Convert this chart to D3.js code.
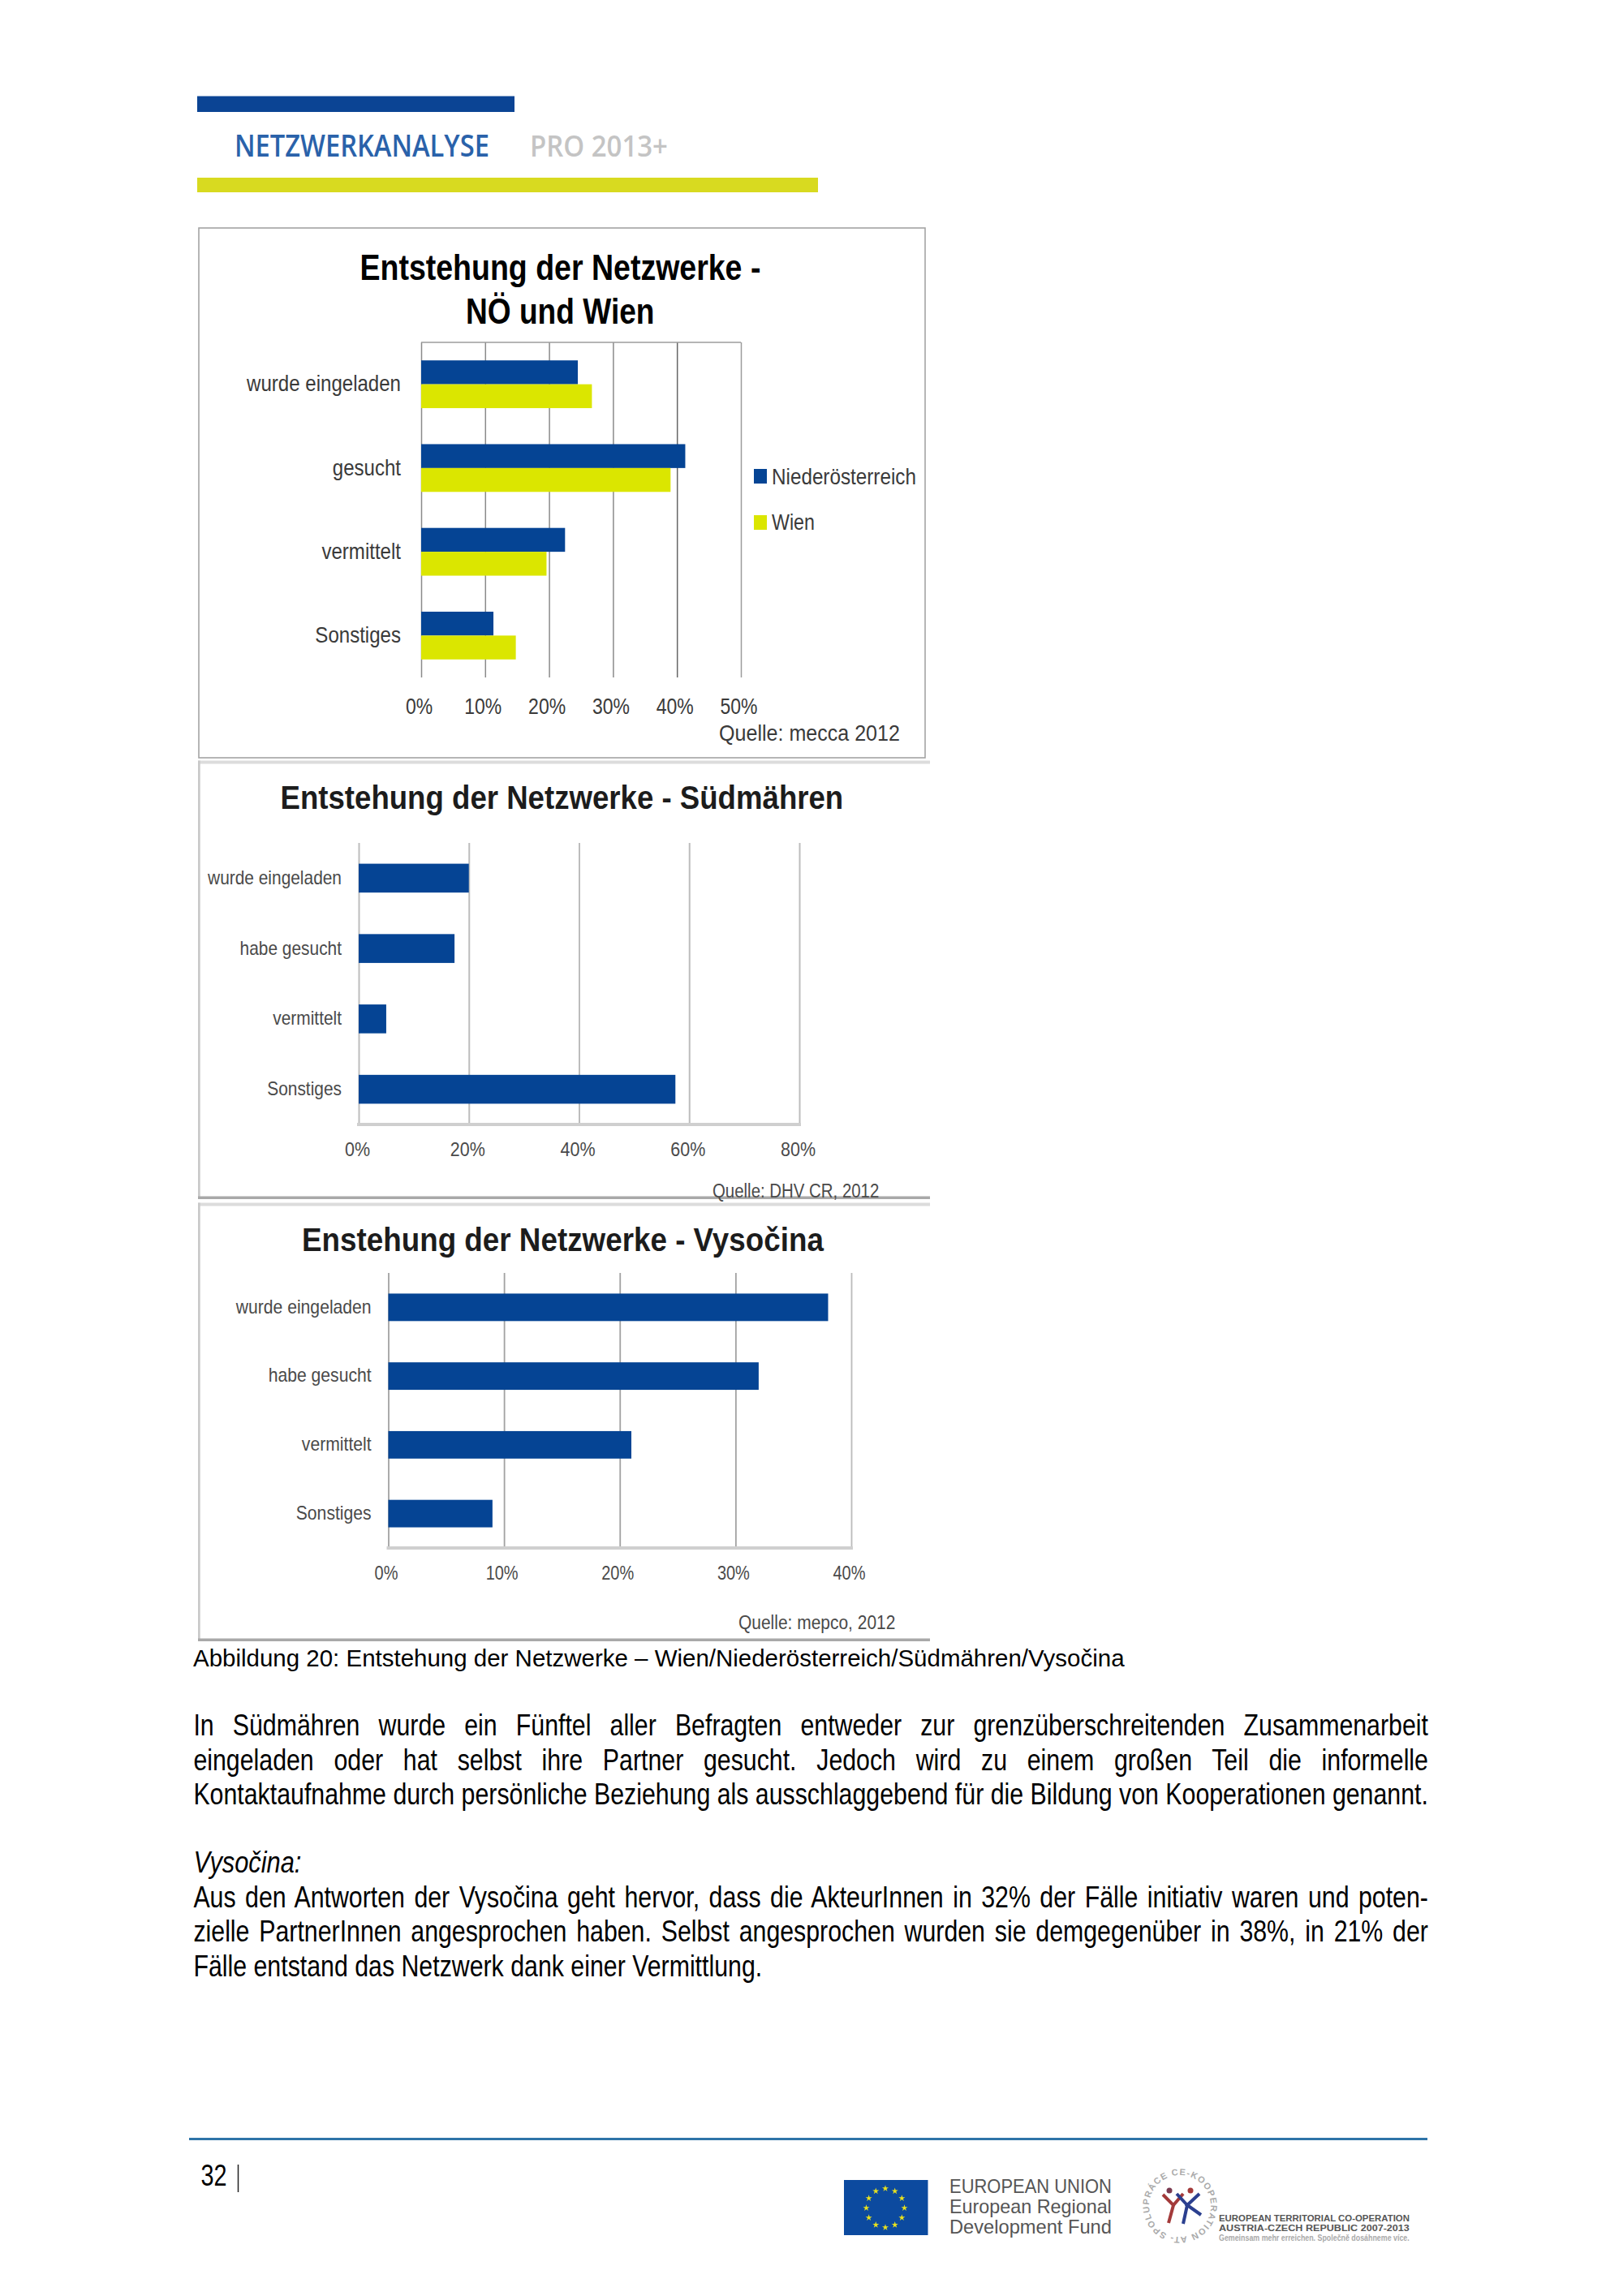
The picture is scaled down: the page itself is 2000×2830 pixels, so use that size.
<!DOCTYPE html>
<html><head><meta charset="utf-8">
<script src="https://cdnjs.cloudflare.com/ajax/libs/d3/7.8.5/d3.min.js"></script>
<style>html,body{margin:0;padding:0;background:#fff}svg{display:block}</style>
</head><body><svg id="page" width="2000" height="2830" viewBox="0 0 2000 2830"></svg>
<script>
// ---------- DATA ----------
const categoriesA = ["wurde eingeladen","gesucht","vermittelt","Sonstiges"];
const categoriesB = ["wurde eingeladen","habe gesucht","vermittelt","Sonstiges"];
const seriesNames = ["Niederösterreich","Wien"];
const valuesNOE = [24.5,41.3,22.5,11.3];
const valuesWien = [26.7,39.0,19.6,14.8];
const valuesSuedmaehren = [20,17.4,5,57.5];
const valuesVysocina = [38,32,21,9];
const ticksA = [0,10,20,30,40,50];
const ticksB = [0,20,40,60,80];
const ticksC = [0,10,20,30,40];
const titleA = ["Entstehung der Netzwerke -","NÖ und Wien"];
const titleB = "Entstehung der Netzwerke - Südmähren";
const titleC = "Enstehung der Netzwerke - Vysočina";
const sourceA = "Quelle: mecca 2012";
const sourceB = "Quelle: DHV CR, 2012";
const sourceC = "Quelle: mepco, 2012";
const caption = "Abbildung 20: Entstehung der Netzwerke – Wien/Niederösterreich/Südmähren/Vysočina";
const paragraph1 = ["In Südmähren wurde ein Fünftel aller Befragten entweder zur grenzüberschreitenden Zusammenarbeit",
  "eingeladen oder hat selbst ihre Partner gesucht. Jedoch wird zu einem großen Teil die informelle",
  "Kontaktaufnahme durch persönliche Beziehung als ausschlaggebend für die Bildung von Kooperationen genannt."];
const paragraph2 = ["Aus den Antworten der Vysočina geht hervor, dass die AkteurInnen in 32% der Fälle initiativ waren und poten-",
  "zielle PartnerInnen angesprochen haben. Selbst angesprochen wurden sie demgegenüber in 38%, in 21% der",
  "Fälle entstand das Netzwerk dank einer Vermittlung."];

// ---------- COLOURS / FONTS ----------
const BLUE="#054494", LIME="#dbe600";
const SANS="'Liberation Sans',Arial,sans-serif", NARROW="'Liberation Sans Narrow','Liberation Sans',sans-serif";
const svg=d3.select("#page");
svg.append("rect").attr("width",2000).attr("height",2830).attr("fill","#fff");

// width: the text is condensed horizontally to this many pixels with a transform
function txt(parent,s,x,y,o={}){
  const t=parent.append("text").attr("x",x).attr("y",y).text(s)
    .attr("font-family",o.family||SANS).attr("font-size",o.size||26)
    .attr("fill",o.fill||"#000").attr("text-anchor",o.anchor||"start");
  if(o.weight)t.attr("font-weight",o.weight);
  if(o.style)t.attr("font-style",o.style);
  if(o.width){
    const n=t.node().getComputedTextLength();
    t.attr("x",0).attr("y",0).attr("transform",`translate(${x},${y}) scale(${o.width/n},1)`);
  }
  return t;
}
function rect(x0,y0,x1,y1,fill){svg.append("rect").attr("x",x0).attr("y",y0).attr("width",x1-x0).attr("height",y1-y0).attr("fill",fill);}

// ---------- HEADER ----------
rect(243,118.5,634,138,"#0b4494");
rect(243,219,1008,237,"#d8da20");
txt(svg,"NETZWERKANALYSE",289,193,{family:"'Open Sans',sans-serif",size:37,weight:600,fill:"#2a62aa",width:314});
txt(svg,"PRO 2013+",653,193,{family:"'Open Sans',sans-serif",size:37,weight:600,fill:"#c4c4c4",width:170});

// ---------- CHART PANELS ----------
function chart(c){
  const g=svg.append("g");
  const last=c.ticks[c.ticks.length-1];
  const x=d3.scaleLinear().domain([0,last]).range(c.xr);
  const y=d3.scaleBand().domain(c.cats).range(c.yr).paddingInner(c.pad).paddingOuter(c.pad/2);
  const ax=g.append("g").attr("transform",`translate(0,${c.yr[1]})`)
    .call(d3.axisBottom(x).tickValues(c.ticks).tickFormat(d=>d+"%").tickSize(-(c.yr[1]-c.yr[0])).tickPadding(0));
  ax.select(".domain").remove();
  ax.selectAll("line").attr("stroke",c.grid).attr("stroke-width",c.gridW);
  if(c.lastGrid) ax.selectAll(".tick").filter(d=>d===last).select("line").attr("stroke",c.lastGrid);
  if(c.darkGrid!==undefined) ax.selectAll(".tick").filter(d=>d===c.darkGrid).select("line").attr("stroke","#666");
  ax.selectAll("text").attr("font-family",SANS).attr("font-size",c.tickSize).attr("fill",c.text)
    .attr("dy",0).attr("y",c.tickY-c.yr[1]).attr("x",c.tickDx/c.tickFit).attr("transform",`scale(${c.tickFit},1)`);
  if(c.axisBand) g.append("line").attr("x1",c.xr[0]-2).attr("x2",c.xr[1]+2).attr("y1",c.yr[1]).attr("y2",c.yr[1]).attr("stroke",c.axisBand).attr("stroke-width",4);
  if(c.topLine) g.append("line").attr("x1",c.xr[0]).attr("x2",c.xr[1]).attr("y1",c.yr[0]).attr("y2",c.yr[0]).attr("stroke",c.topLine).attr("stroke-width",1.5);
  const sub=d3.scaleBand().domain(c.series.map((s,i)=>i)).range([0,y.bandwidth()]);
  c.series.forEach((s,i)=>{
    g.append("g").selectAll("rect").data(s.values).join("rect")
      .attr("x",x(0)).attr("y",(d,k)=>y(c.cats[k])+sub(i)).attr("width",d=>x(d)-x(0)).attr("height",sub.bandwidth()).attr("fill",s.color);
  });
  const ay=g.append("g").attr("transform",`translate(${c.labelX},0)`).call(d3.axisLeft(y).tickSize(0).tickPadding(0));
  ay.select(".domain").remove();
  ay.selectAll("text").attr("font-family",SANS).attr("font-size",c.labelSize).attr("fill",c.text).attr("dy",c.labelDy)
    .attr("x",0).attr("transform",`scale(${c.labelFit},1)`);
  return g;
}
function natural(s,size,weight){const t=txt(svg,s,0,-50,{size,weight});const w=t.node().getComputedTextLength();t.remove();return w;}

svg.append("rect").attr("x",245).attr("y",281).attr("width",895).attr("height",653).attr("fill","none").attr("stroke","#a4a4a4").attr("stroke-width",1.6);
function softFrame(y0,y1){
  rect(244,y0,1146,y0+4,"#dcdcdc");
  rect(244,y0,246.7,y1,"#c9c9c9");
  rect(244,y1-3.5,1146,y1,"#a8a8a8");
}
softFrame(937.5,1478);
softFrame(1482.5,2023);

// Chart 1
txt(svg,titleA[0],443.5,345,{size:44,weight:"bold",width:494});
txt(svg,titleA[1],574,399,{size:44,weight:"bold",width:232.5});
chart({cats:categoriesA,ticks:ticksA,xr:[519,913],yr:[422,835],pad:0.43,
  series:[{values:valuesNOE,color:BLUE},{values:valuesWien,color:LIME}],
  grid:"#8a8a8a",gridW:1.5,lastGrid:"#9c9c9c",darkGrid:40,topLine:"#9c9c9c",text:"#3a3a3a",
  tickSize:28,tickFit:46/natural("10%",28),tickY:880,tickDx:-3,
  labelX:494,labelSize:27,labelDy:"0.32em",labelFit:190/natural(categoriesA[0],27)});
[BLUE,LIME].forEach((col,i)=>{
  const y0=[578,635][i];
  rect(929,y0,945,y0+18,col);
  txt(svg,seriesNames[i],951,[597,653][i],{size:27,fill:"#3a3a3a",width:[178,53][i]});
});
txt(svg,sourceA,886,913,{size:27,fill:"#3a3a3a",width:223});

// Chart 2
txt(svg,titleB,345.5,996.5,{size:41,weight:"bold",fill:"#1c1c1c",width:694});
chart({cats:categoriesB,ticks:ticksB,xr:[442,985],yr:[1039,1386],pad:0.59,
  series:[{values:valuesSuedmaehren,color:BLUE}],
  grid:"#bdbdbd",gridW:2,axisBand:"#cfcfcf",text:"#4a4a4a",
  tickSize:24,tickFit:43/natural("20%",24),tickY:1425,tickDx:-2,
  labelX:421,labelSize:23,labelDy:"0.32em",labelFit:165/natural(categoriesB[0],23)});
txt(svg,sourceB,878,1476,{size:24,fill:"#4a4a4a",width:205.5});

// Chart 3
txt(svg,titleC,372,1542,{size:41,weight:"bold",fill:"#1c1c1c",width:643});
chart({cats:categoriesB,ticks:ticksC,xr:[478.5,1049],yr:[1569,1908],pad:0.6,
  series:[{values:valuesVysocina,color:BLUE}],
  grid:"#a2a2a2",gridW:1.8,lastGrid:"#bbb",axisBand:"#cfcfcf",text:"#4a4a4a",
  tickSize:23,tickFit:40/natural("20%",23),tickY:1947,tickDx:-3,
  labelX:457.6,labelSize:23,labelDy:"0.32em",labelFit:167/natural(categoriesB[0],23)});
txt(svg,sourceC,910,2008,{size:24,fill:"#4a4a4a",width:193.6});

// ---------- BODY TEXT ----------
txt(svg,caption,238,2054,{family:NARROW,size:30,width:1148});
const BX=238.4, BW=1522, BS=37;
const lineProbe=txt(svg,paragraph1[2],0,-60,{family:NARROW,size:BS});
const fit=BW/lineProbe.node().getComputedTextLength(); lineProbe.remove();
function justified(s,y){
  const t=txt(svg,s,0,0,{family:NARROW,size:BS});
  const n=t.node().getComputedTextLength(), spaces=s.split(" ").length-1;
  t.attr("word-spacing",(BW/fit-n)/spaces).attr("transform",`translate(${BX},${y}) scale(${fit},1)`);
}
justified(paragraph1[0],2139);
justified(paragraph1[1],2182);
justified(paragraph1[2],2224);
txt(svg,"Vysočina:",BX,2308,{family:NARROW,size:BS,style:"italic",width:133});
justified(paragraph2[0],2351);
justified(paragraph2[1],2393);
txt(svg,paragraph2[2],BX,2436,{family:NARROW,size:BS,width:701});

// ---------- FOOTER ----------
rect(233,2635,1759,2638,"#2f74a8");
txt(svg,"32",247.5,2694,{family:NARROW,size:37,width:32});
svg.append("line").attr("x1",293.5).attr("x2",293.5).attr("y1",2668).attr("y2",2702).attr("stroke","#222").attr("stroke-width",1.5);
rect(1040,2687,1143.5,2755,"#0c4a9f");
const star=d3.symbol().type(d3.symbolStar).size(20);
svg.append("g").selectAll("path").data(d3.range(12)).join("path").attr("d",star).attr("fill","#e9e21e")
  .attr("transform",d=>`translate(${1091+23.5*Math.sin(d*Math.PI/6)},${2721.5-24*Math.cos(d*Math.PI/6)})`);
[["EUROPEAN UNION",2703],["European Regional",2728],["Development Fund",2753]].forEach(r=>{
  txt(svg,r[0],1170,r[1],{size:23,fill:"#555",width:200});
});
// co-operation logo
const CX=1454,CY=2719,R=38;
svg.append("defs").append("path").attr("id","ring").attr("d",`M${CX-R},${CY}a${R},${R} 0 1,1 ${2*R},0a${R},${R} 0 1,1 ${-2*R},0`);
svg.append("text").attr("font-family",SANS).attr("font-size",11).attr("font-weight","bold").attr("fill","#aaa")
  .attr("transform",`rotate(-65,${CX},${CY})`)
  .append("textPath").attr("href","#ring").attr("textLength",2*Math.PI*R-6).text("SPOLUPRÁCE CE-KOOPERATION AT-");
[["#a33a3a",[[1433,2705],[1446,2718],[1440,2740]]],["#a33a3a",[[1458,2704],[1446,2718]]],
 ["#2b3f8f",[[1450,2704],[1463,2718],[1458,2741]]],["#2b3f8f",[[1478,2704],[1463,2718],[1480,2730]]]]
 .forEach(([col,pts])=>svg.append("path").attr("d",d3.line()(pts)).attr("fill","none").attr("stroke",col).attr("stroke-width",4));
[[1441,2700,"#7a3a50"],[1467,2700,"#a33a3a"]].forEach(([cx,cy,col])=>svg.append("circle").attr("cx",cx).attr("cy",cy).attr("r",3.5).attr("fill",col));
[["EUROPEAN TERRITORIAL CO-OPERATION",2738,"#555"],["AUSTRIA-CZECH REPUBLIC 2007-2013",2750,"#555"],["Gemeinsam mehr erreichen. Společně dosáhneme více.",2762,"#aaa"]].forEach(r=>{
  txt(svg,r[0],1502,r[1],{size:10,weight:"bold",fill:r[2],width:235});
});
</script></body></html>
